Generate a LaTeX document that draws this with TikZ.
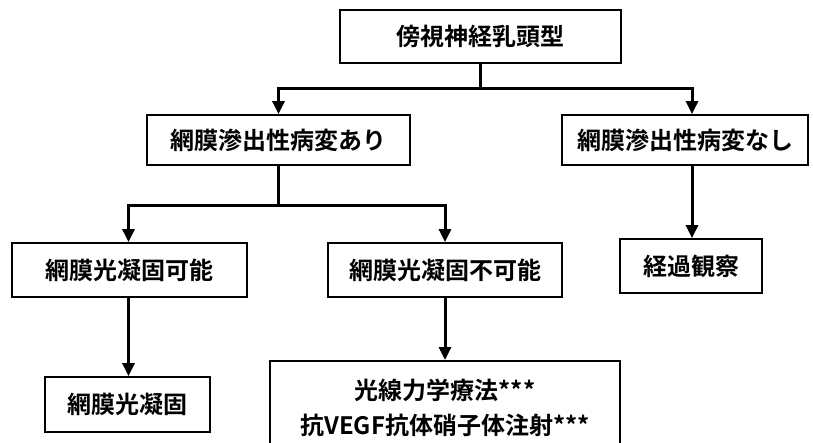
\documentclass[tikz,border=0pt]{standalone}
\usepackage{fontspec}
\setmainfont{Noto Sans CJK JP}[BoldFont={Noto Sans CJK JP Bold}]
\usetikzlibrary{arrows.meta}
\begin{document}
\begin{tikzpicture}[x=1pt,y=-1pt,
  box/.style={draw, line width=1.8pt, inner sep=0pt, font=\fontsize{24}{35}\selectfont\bfseries, align=center},
  conn/.style={line width=3pt},
  arr/.style={line width=3pt, -{Triangle[length=13pt,width=12pt]}}]
\useasboundingbox (0,0) rectangle (813,442);
\node[box, minimum width=281pt, minimum height=53pt] (top) at (480.5,36.5) {傍視神経乳頭型};
\node[box, minimum width=263pt, minimum height=50pt] (A) at (278.5,140) {網膜滲出性病変あり};
\node[box, minimum width=246pt, minimum height=50pt] (B) at (685,140) {網膜滲出性病変なし};
\node[box, minimum width=235pt, minimum height=54pt] (C) at (129.5,270) {網膜光凝固可能};
\node[box, minimum width=234pt, minimum height=54pt] (D) at (445,270) {網膜光凝固不可能};
\node[box, minimum width=142pt, minimum height=54pt] (E) at (691,266) {経過観察};
\node[box, minimum width=165pt, minimum height=55pt] (F) at (127.5,404.5) {網膜光凝固};
\node[box, minimum width=350pt, minimum height=94pt, anchor=north] (G) at (445,360) {};
\node[font=\fontsize{24}{35}\selectfont\bfseries, align=center, anchor=center] (Gt) at (445,408) {光線力学療法***\\抗VEGF抗体硝子体注射***};
\draw[conn] (top.south) -- ++(0,25) coordinate (j1);
\draw[arr] (j1) -| (A.north);
\draw[arr] (j1) -| ([xshift=7pt]B.north);
\draw[conn] (A.south) -- ++(0,40) coordinate (j2);
\draw[arr] (j2) -| ([xshift=-1pt]C.north);
\draw[arr] (j2) -| (D.north);
\draw[arr] ([xshift=7pt]B.south) -- ([xshift=1pt]E.north);
\draw[arr] ([xshift=-1pt]C.south) -- ([xshift=1pt]F.north);
\draw[arr] (D.south) -- (G.north);
\end{tikzpicture}
\end{document}
